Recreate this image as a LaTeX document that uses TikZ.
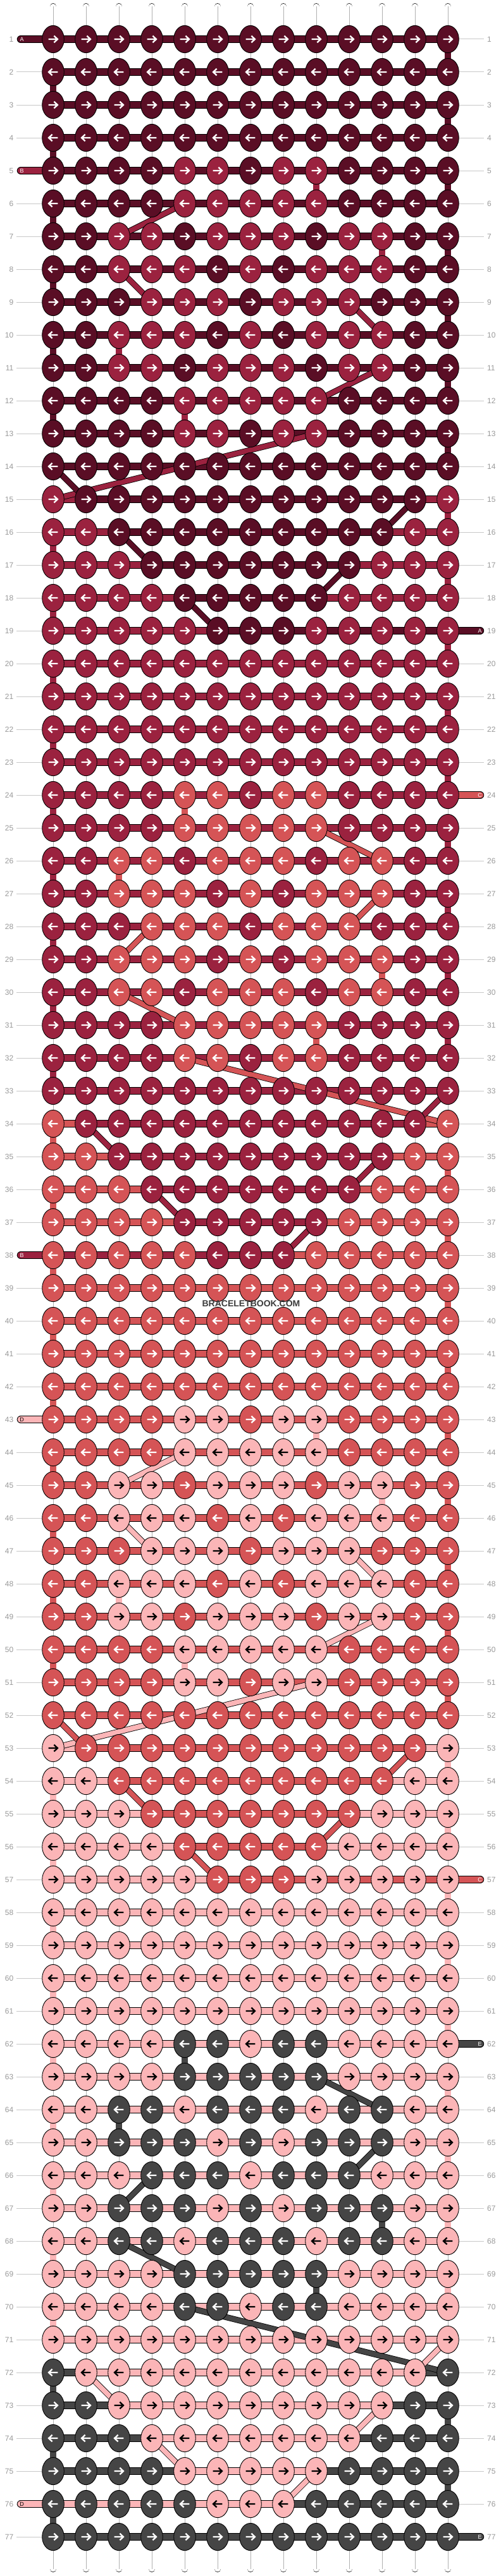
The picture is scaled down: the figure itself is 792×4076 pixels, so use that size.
\documentclass[tikz,border=0pt]{standalone}
\usepackage{fontspec}
\setmainfont{Liberation Sans}
\definecolor{cA}{HTML}{5A0E25}
\definecolor{cB}{HTML}{9B223F}
\definecolor{cC}{HTML}{D55456}
\definecolor{cD}{HTML}{FBB5B7}
\definecolor{cE}{HTML}{454545}
\colorlet{tA}{white}
\colorlet{tB}{white}
\colorlet{tC}{white}
\colorlet{tD}{black}
\colorlet{tE}{white}
\definecolor{numgray}{HTML}{9A9A9A}
\definecolor{linegray}{HTML}{C8C8C8}
\definecolor{tubegray}{HTML}{B0B0B0}
\definecolor{wmark}{HTML}{3C3C3C}

\newcount\Lr \newcount\Lc \newcount\Cc \newcount\Ci
\makeatletter
\def\setrow#1#2{\edef\cur@row{#1}\global\Ci=0 \setrow@aux#2\relax}
\def\setrow@aux#1{\ifx#1\relax\else
  \expandafter\xdef\csname K@\cur@row @\the\Ci\endcsname{#1}%
  \global\advance\Ci by 1
  \expandafter\setrow@aux\fi}
\makeatother
\def\Xof#1{\the\numexpr84+52*(#1)\relax}
\def\Yof#1{\the\numexpr10+52*(#1)\relax}

% ---- knot colours (A maroon, B crimson, C coral, D pink, E grey)
\foreach \r in {1,...,4}{\setrow{\r}{AAAAAAAAAAAAA}}
\setrow{5}{AAAABBABBAAAA}
\setrow{6}{AAAABBBBBAAAA}
\setrow{7}{AABBABBBABBAA}
\setrow{8}{AABBBABABBBAA}
\setrow{9}{AAABBBABBBAAA}
\setrow{10}{AABBBABABBBAA}
\setrow{11}{AABBABBBABBAA}
\setrow{12}{AAAABBBBBAAAA}
\setrow{13}{AAAABBABBAAAA}
\setrow{14}{AAAAAAAAAAAAA}
\setrow{15}{BAAAAAAAAAAAB}
\setrow{16}{BBAAAAAAAAABB}
\setrow{17}{BBBAAAAAAABBB}
\setrow{18}{BBBBAAAAABBBB}
\setrow{19}{BBBBBAAABBBBB}
\foreach \r in {20,...,23}{\setrow{\r}{BBBBBBBBBBBBB}}
\setrow{24}{BBBBCCBCCBBBB}
\setrow{25}{BBBBCCCCCBBBB}
\setrow{26}{BBCCBCCCBCCBB}
\setrow{27}{BBCCCBCBCCCBB}
\setrow{28}{BBBCCCBCCCBBB}
\setrow{29}{BBCCCBCBCCCBB}
\setrow{30}{BBCCBCCCBCCBB}
\setrow{31}{BBBBCCCCCBBBB}
\setrow{32}{BBBBCCBCCBBBB}
\setrow{33}{BBBBBBBBBBBBB}
\setrow{34}{CBBBBBBBBBBBC}
\setrow{35}{CCBBBBBBBBBCC}
\setrow{36}{CCCBBBBBBBCCC}
\setrow{37}{CCCCBBBBBCCCC}
\setrow{38}{CCCCCBBBCCCCC}
\foreach \r in {39,...,42}{\setrow{\r}{CCCCCCCCCCCCC}}
\setrow{43}{CCCCDDCDDCCCC}
\setrow{44}{CCCCDDDDDCCCC}
\setrow{45}{CCDDCDDDCDDCC}
\setrow{46}{CCDDDCDCDDDCC}
\setrow{47}{CCCDDDCDDDCCC}
\setrow{48}{CCDDDCDCDDDCC}
\setrow{49}{CCDDCDDDCDDCC}
\setrow{50}{CCCCDDDDDCCCC}
\setrow{51}{CCCCDDCDDCCCC}
\setrow{52}{CCCCCCCCCCCCC}
\setrow{53}{DCCCCCCCCCCCD}
\setrow{54}{DDCCCCCCCCCDD}
\setrow{55}{DDDCCCCCCCDDD}
\setrow{56}{DDDDCCCCCDDDD}
\setrow{57}{DDDDDCCCDDDDD}
\foreach \r in {58,...,61}{\setrow{\r}{DDDDDDDDDDDDD}}
\setrow{62}{DDDDEEDEEDDDD}
\setrow{63}{DDDDEEEEEDDDD}
\setrow{64}{DDEEDEEEDEEDD}
\setrow{65}{DDEEEDEDEEEDD}
\setrow{66}{DDDEEEDEEEDDD}
\setrow{67}{DDEEEDEDEEEDD}
\setrow{68}{DDEEDEEEDEEDD}
\setrow{69}{DDDDEEEEEDDDD}
\setrow{70}{DDDDEEDEEDDDD}
\setrow{71}{DDDDDDDDDDDDD}
\setrow{72}{EDDDDDDDDDDDE}
\setrow{73}{EEDDDDDDDDDEE}
\setrow{74}{EEEDDDDDDDEEE}
\setrow{75}{EEEEDDDDDEEEE}
\setrow{76}{EEEEEDDDEEEEE}
\setrow{77}{EEEEEEEEEEEEE}

% ---- drawing helpers
\newcommand\hb[4]{% string, y, x1, x2
  \draw[line width=12.4pt, black] (#3,#2)--(#4,#2);
  \draw[line width=10.8pt, color=c#1] (#3,#2)--(#4,#2);}
\newcommand\vb[4]{% string, x, y1, y2
  \draw[line width=10.8pt, black] (#2,#3)--(#2,#4);
  \draw[line width=9.2pt, color=c#1] (#2,#3)--(#2,#4);}
\newcommand\lp[2]{% string, y
  \draw[line width=12.4pt, black, line cap=round] (33,#2)--(84,#2);
  \draw[line width=10.8pt, color=c#1, line cap=round] (33,#2)--(84,#2);
  \node[text=t#1, font=\fontsize{9}{9}\selectfont, inner sep=0pt] at (34.7,#2) {#1};}
\newcommand\rp[2]{% string, y
  \draw[line width=12.4pt, black, line cap=round] (708,#2)--(759,#2);
  \draw[line width=10.8pt, color=c#1, line cap=round] (708,#2)--(759,#2);
  \node[text=t#1, font=\fontsize{9}{9}\selectfont, inner sep=0pt] at (758.7,#2) {#1};}
\newcommand\dg[5]{% string, r1, c1, r2, c2
  \edef\xa{\Xof{#3}}\edef\ya{\Yof{#2}}\edef\xb{\Xof{#5}}\edef\yb{\Yof{#4}}%
  \draw[line width=9.4pt, black] (\xa,\ya)--(\xb,\yb);
  \draw[line width=7.8pt, color=c#1] (\xa,\ya)--(\xb,\yb);}
\gdef\diaglist{}
\newcommand\adddiag{\xdef\diaglist{\unexpanded\expandafter{\diaglist}\noexpand\dg{\St}{\the\Lr}{\the\Lc}{\r}{\the\Cc}}}
\newcommand\procknot{%
  \edef\yy{\Yof{\r}}\edef\xx{\Xof{\Cc}}%
  \ifnum\Lr=0
    \ifodd\r\relax
      \hb{\St}{\yy}{84}{\xx}\lp{\St}{\yy}%
    \else
      \hb{\St}{\yy}{\xx}{708}\rp{\St}{\yy}%
    \fi
  \else
    \edef\xo{\Xof{\Lc}}%
    \ifnum\Lr=\r\relax
      \hb{\St}{\yy}{\xo}{\xx}%
    \else
      \edef\yo{\Yof{\Lr}}%
      \ifnum\numexpr\Lr+1\relax=\r\relax
        \ifnum\Lc=\Cc
          \vb{\St}{\xx}{\yo}{\yy}%
        \else
          \adddiag
        \fi
      \else
        \adddiag
      \fi
    \fi
  \fi
  \global\Lr=\r\relax
  \global\Lc=\Cc}
\newcommand\procexit{%
  \edef\yy{\Yof{\Lr}}\edef\xx{\Xof{\Lc}}%
  \ifodd\Lr
    \hb{\St}{\yy}{\xx}{708}\rp{\St}{\yy}%
  \else
    \hb{\St}{\yy}{84}{\xx}\lp{\St}{\yy}%
  \fi}

\begin{document}
\begin{tikzpicture}[x=1pt,y=-1pt]
\useasboundingbox (0,0) rectangle (792,4076);
\fill[white] (0,0) rectangle (792,4076);
% row numbers and guide lines
\foreach \r in {1,...,77}{%
  \edef\yy{\Yof{\r}}%
  \draw[linegray, line width=1pt] (26,\yy)--(66,\yy) (725,\yy)--(765,\yy);
  \node[text=numgray, anchor=east, inner sep=0pt, font=\fontsize{12}{12}\selectfont] at (21.5,\yy) {\r};
  \node[text=numgray, anchor=west, inner sep=0pt, font=\fontsize{12}{12}\selectfont] at (770,\yy) {\r};
}
% vertical (white) strings
\foreach \c in {0,...,12}{%
  \edef\xx{\Xof{\c}}%
  \draw[black, line width=10.8pt, line cap=round] (\xx,10.4)--(\xx,4064.6);
  \draw[white, line width=9.2pt, line cap=round] (\xx,10.4)--(\xx,4064.6);
  \draw[tubegray, line width=0.8pt] (\xx,10.4)--(\xx,4064.6);
}
% working strings
\foreach \St in {E,D,C,B,A}{%
  \global\Lr=0 \global\Lc=0
  \foreach \r in {1,...,77}{%
    \foreach \k in {0,...,12}{%
      \ifodd\r\relax \global\Cc=\k\relax \else \global\Cc=\numexpr12-\k\relax \fi
      \edef\kk{\csname K@\r @\the\Cc\endcsname}%
      \if\kk\St
        \procknot
      \fi
    }%
  }%
  \procexit
}
\diaglist
% knots
\foreach \r in {1,...,77}{%
  \edef\yy{\Yof{\r}}%
  \foreach \c in {0,...,12}{%
    \edef\xx{\Xof{\c}}%
    \edef\kk{\csname K@\r @\c\endcsname}%
    \filldraw[fill=c\kk, draw=black, line width=0.9pt] (\xx,\yy) ellipse [x radius=17.3pt, y radius=21.6pt];
    \ifodd\r\relax
      \draw[color=t\kk, line width=2.3pt] (\xx-7.3,\yy)--(\xx+6.6,\yy) (\xx+1.4,\yy-5.3)--(\xx+7,\yy)--(\xx+1.4,\yy+5.3);
    \else
      \draw[color=t\kk, line width=2.3pt] (\xx+7.3,\yy)--(\xx-6.6,\yy) (\xx-1.4,\yy-5.3)--(\xx-7,\yy)--(\xx-1.4,\yy+5.3);
    \fi
  }%
}
\node[text=wmark, font=\bfseries\fontsize{14}{14}\selectfont, inner sep=0pt] (wm) at (397,2063) {BRACELETBOOK.COM};
\end{tikzpicture}
\end{document}
